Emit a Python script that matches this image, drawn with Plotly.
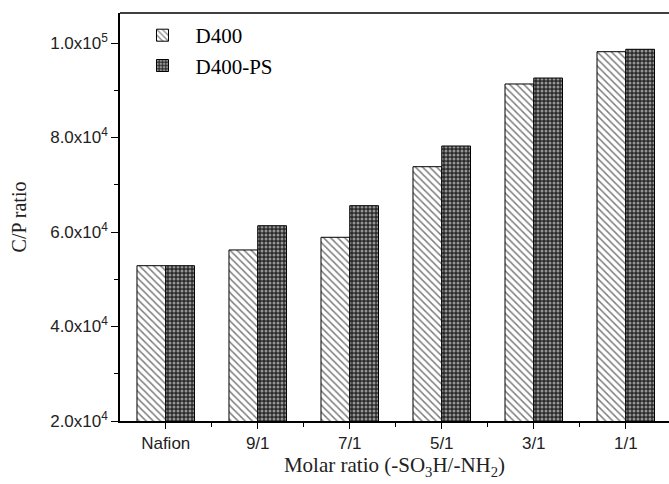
import plotly.graph_objects as go

categories = ["Nafion", "9/1", "7/1", "5/1", "3/1", "1/1"]
d400 = [52870, 56200, 58880, 73820, 91330, 98160]
d400_ps = [52870, 61330, 65570, 78200, 92590, 98670]
ytick_vals = [20000, 40000, 60000, 80000, 100000]
ytick_text = ["2.0x10<sup>4</sup>", "4.0x10<sup>4</sup>", "6.0x10<sup>4</sup>",
              "8.0x10<sup>4</sup>", "1.0x10<sup>5</sup>"]

xpos = list(range(len(categories)))

fig = go.Figure()
fig.add_trace(go.Bar(
    x=xpos, y=d400, name="D400",
    marker=dict(color="white", line=dict(color="black", width=1),
                pattern=dict(shape="\\", fgcolor="black", bgcolor="white",
                             size=5, solidity=0.3)),
))
fig.add_trace(go.Bar(
    x=xpos, y=d400_ps, name="D400-PS",
    marker=dict(color="white", line=dict(color="black", width=1),
                pattern=dict(shape=".", fgcolor="white", bgcolor="#2a2a2a",
                             size=4, solidity=0.45)),
))

fig.update_layout(
    width=669, height=480,
    margin=dict(l=120, r=0, t=13, b=59),
    paper_bgcolor="white", plot_bgcolor="white",
    barmode="group", bargap=0.375, bargroupgap=0,
    showlegend=True,
    legend=dict(x=0.0173, y=0.995, xanchor="left", yanchor="top",
                font=dict(family="Liberation Serif", size=21, color="black"),
                bgcolor="rgba(0,0,0,0)", tracegroupgap=0, itemwidth=56),
    font=dict(family="Liberation Sans", color="black"),
    shapes=[dict(type="line", xref="paper", yref="paper", x0=0, x1=1, y0=1, y1=1,
                 line=dict(color="black", width=1.5))],
)
fig.update_xaxes(
    range=[-0.497, 5.47], tickmode="array", tickvals=xpos, ticktext=categories,
    showline=True, linecolor="black", linewidth=1.5, mirror=False,
    ticks="outside", ticklen=6, tickwidth=1.2, tickcolor="black",
    tickfont=dict(family="Liberation Sans", size=17, color="#222"),
    minor=dict(tickvals=[0.5, 1.5, 2.5, 3.5, 4.5], ticks="outside", ticklen=4,
               tickwidth=1.2, tickcolor="black"),
    showgrid=False, zeroline=False,
    title=dict(text="Molar ratio (-SO<sub>3</sub>H/-NH<sub>2</sub>)",
               font=dict(family="Liberation Serif", size=21, color="#222"),
               standoff=3),
)
fig.update_yaxes(
    range=[20000, 106350], tickmode="array", tickvals=ytick_vals, ticktext=ytick_text,
    showline=True, linecolor="black", linewidth=1.5, mirror=False,
    ticks="outside", ticklen=7, tickwidth=1.2, tickcolor="black",
    tickfont=dict(family="Liberation Sans", size=17, color="#222"),
    minor=dict(tickvals=[30000, 50000, 70000, 90000], ticks="outside", ticklen=4,
               tickwidth=1.2, tickcolor="black"),
    showgrid=False, zeroline=False,
    title=dict(text="C/P ratio", font=dict(family="Liberation Serif", size=20, color="#222"),
               standoff=18),
)

fig.write_html("out.html")
